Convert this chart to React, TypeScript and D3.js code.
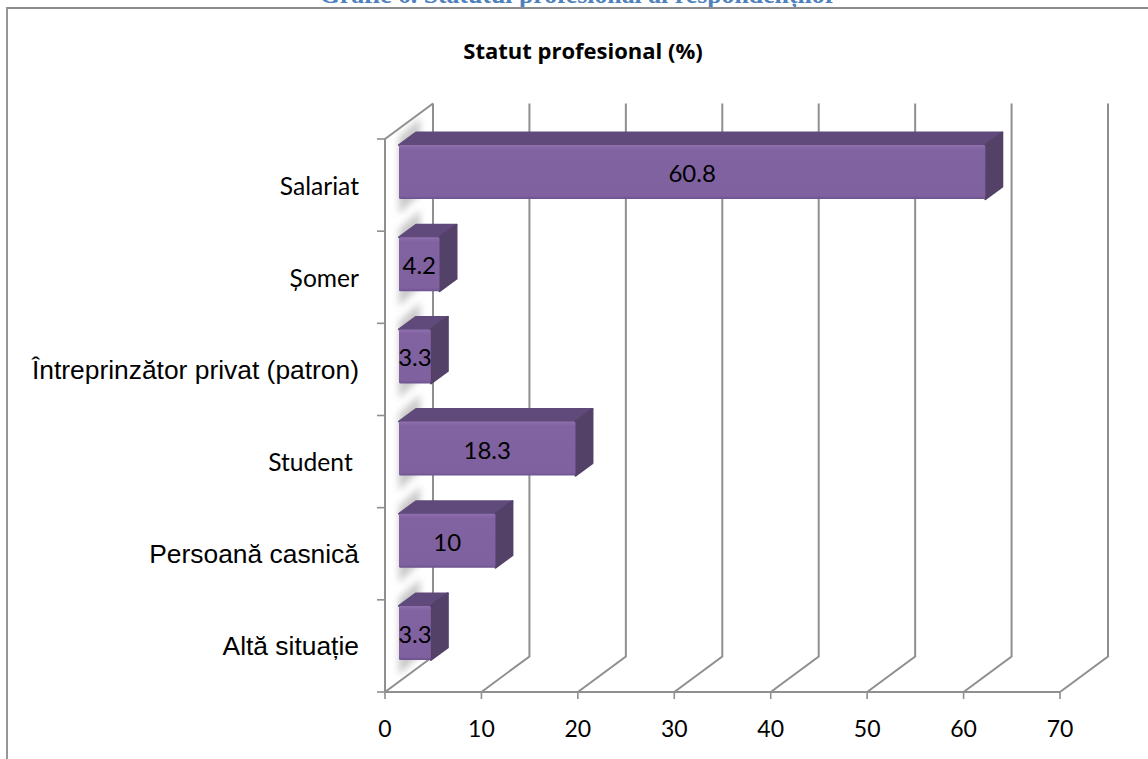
import React from "react";
import * as d3 from "d3";

const categories = ["Salariat", "Șomer", "Întreprinzător privat (patron)", "Student ", "Persoană casnică", "Altă situație"];
const values = [60.8, 4.2, 3.3, 18.3, 10, 3.3];
const labelFonts = ["Lato", "Lato", "Liberation Sans", "Lato", "Liberation Sans", "Liberation Sans"];
const labelSizes = [24.6, 24.6, 26.4, 24.6, 26.4, 26.4];
const ticks = [0, 10, 20, 30, 40, 50, 60, 70];
const chartTitle = "Statut profesional (%)";
const docTitle = "Grafic 6. Statutul profesional al respondenților";

const W = 1148, H = 759;
const x = d3.scaleLinear().domain([0, 70]).range([385, 1060]);
const y = d3.scaleBand<number>().domain(d3.range(categories.length)).range([139, 692]);
const wall = { dx: 48, dy: -35.5 };
const barInset = { dx: 14, dy: -13 };
const depth = { dx: 17, dy: -12.5 };
const barH = 54;
const grey = "#8f8f8f";
const poly = d3.line<[number, number]>().curve(d3.curveLinearClosed);

export default function App() {
  const yTicks = d3.range(categories.length + 1).map((i) => 139 + i * y.bandwidth());
  return (
    <svg width={W} height={H} style={{ position: "absolute", left: 0, top: 0, background: "#fff" }}>
      <defs>
        <linearGradient id="front" x1="0" y1="0" x2="0" y2="1">
          <stop offset="0" stopColor="#8f6fad" />
          <stop offset="0.08" stopColor="#8263a2" />
          <stop offset="0.94" stopColor="#7f61a0" />
          <stop offset="1" stopColor="#6d5290" />
        </linearGradient>
        <filter id="blur" x="-50%" y="-50%" width="200%" height="200%">
          <feGaussianBlur stdDeviation="3.5" />
        </filter>
      </defs>
      <text x={578} y={3} textAnchor="middle" fontFamily="Liberation Serif" fontWeight="bold" fontSize={25.8} fill="#4f81bd">{docTitle}</text>
      <path d={`M7,${H} V8 H${W}`} fill="none" stroke="#8c8c8c" strokeWidth={1.8} />
      <text x={583} y={59} textAnchor="middle" fontFamily="Open Sans" fontWeight="bold" fontSize={22} fill="#000">{chartTitle}</text>

      {/* walls */}
      {ticks.map((t) => (
        <path key={t} d={`M${x(t)},692 L${x(t) + wall.dx},${692 + wall.dy} V${139 + wall.dy}`} fill="none" stroke={grey} strokeWidth={2} />
      ))}
      <path d={`M${x(0)},692 V139 L${x(0) + wall.dx},${139 + wall.dy}`} fill="none" stroke={grey} strokeWidth={2} />
      <path d={`M${x(0)},692 H${x(70)}`} fill="none" stroke={grey} strokeWidth={2} />
      {yTicks.map((t) => (
        <line key={t} x1={377} x2={385} y1={t} y2={t} stroke={grey} strokeWidth={1.6} />
      ))}
      {ticks.map((t) => (
        <line key={t} x1={x(t)} x2={x(t)} y1={692} y2={699} stroke={grey} strokeWidth={1.6} />
      ))}

      {/* bars */}
      {values.map((v, i) => {
        const x0 = x(0) + barInset.dx;
        const x1 = x(v) + barInset.dx;
        const top = y(i)! + y.bandwidth() / 2 + barInset.dy - barH / 2;
        const bot = top + barH;
        const cy = y(i)! + y.bandwidth() / 2;
        return (
          <g key={i}>
            <path
              d={poly([[x0, top - 8], [x0 + depth.dx + 4, top - 27], [x0 + depth.dx + 4, bot - 5], [x0, bot + 15]])!}
              fill="#a4a4a4"
              opacity={0.6}
              filter="url(#blur)"
            />
            <path d={poly([[x0, top], [x0 + depth.dx, top + depth.dy], [x1 + depth.dx, top + depth.dy], [x1, top]])!} fill="#604a7b" stroke="#604a7b" strokeLinejoin="round" strokeWidth={2} />
            <path d={poly([[x1, top], [x1 + depth.dx, top + depth.dy], [x1 + depth.dx, bot + depth.dy], [x1, bot]])!} fill="#544168" stroke="#544168" strokeLinejoin="round" strokeWidth={2} />
            <rect x={x0} y={top} width={x1 - x0} height={barH} rx={1.5} fill="url(#front)" />
            <text x={(x0 + x1) / 2} y={top + barH / 2 + 10} textAnchor="middle" fontFamily="Lato" fontSize={24} fill="#000">{v}</text>
            <text
              x={359}
              y={cy + (labelFonts[i] === "Lato" ? 9.5 : 9.5)}
              textAnchor="end"
              fontFamily={labelFonts[i]}
              fontSize={labelSizes[i]}
              fill="#000"
              style={{ whiteSpace: "pre" }}
            >
              {categories[i]}
            </text>
          </g>
        );
      })}
      {ticks.map((t) => (
        <text key={t} x={x(t)} y={737} textAnchor="middle" fontFamily="Lato" fontSize={23} fill="#000">{t}</text>
      ))}
    </svg>
  );
}
